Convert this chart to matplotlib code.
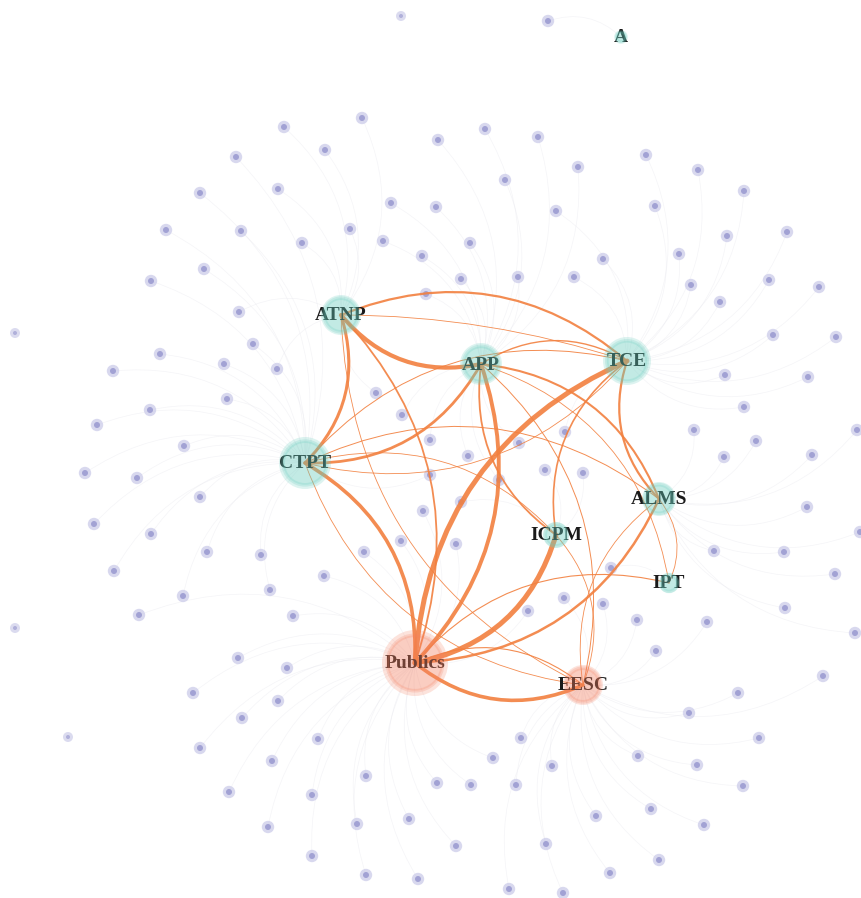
import matplotlib.pyplot as plt
from matplotlib.patches import Circle, PathPatch
from matplotlib.path import Path

# hub nodes (pixel layout of the reference)
hub_names = ["ATNP", "APP", "TCE", "CTPT", "ALMS", "ICPM", "IPT", "Publics", "EESC", "A"]
hub_x = [341, 481, 627, 305, 659, 556, 669, 415, 583, 621]
hub_y = [315, 364, 361, 463, 499, 535, 583, 663, 685, 37]
hub_size = [20, 21, 24, 26, 17, 13, 10, 33, 20, 6]
hub_kind = ["t", "t", "t", "t", "t", "t", "t", "s", "s", "t"]

# leaf nodes grouped by the hub they hang off
leaves_ATNP = [(362, 118), (284, 127), (325, 150), (278, 189), (350, 229), (302, 243),
               (239, 312), (277, 369), (376, 393)]
leaves_APP = [(391, 203), (383, 241), (422, 256), (426, 294), (485, 129), (438, 140),
              (538, 137), (578, 167), (505, 180), (436, 207), (470, 243), (461, 279),
              (518, 277), (402, 415), (430, 440), (519, 443), (468, 456), (499, 480)]
leaves_TCE = [(646, 155), (698, 170), (744, 191), (556, 211), (655, 206), (727, 236),
              (787, 232), (679, 254), (603, 259), (574, 277), (691, 285), (769, 280),
              (819, 287), (720, 302), (773, 335), (836, 337), (725, 375), (808, 377),
              (744, 407), (565, 432)]
leaves_CTPT = [(236, 157), (200, 193), (166, 230), (241, 231), (204, 269), (151, 281),
               (253, 344), (160, 354), (113, 371), (224, 364), (227, 399), (150, 410),
               (97, 425), (184, 446), (85, 473), (137, 478), (430, 475), (200, 497),
               (94, 524), (151, 534), (207, 552), (261, 555), (114, 571), (270, 590),
               (183, 596)]
leaves_ALMS = [(694, 430), (756, 441), (857, 430), (724, 457), (812, 455), (807, 507),
               (860, 532), (714, 551), (784, 552), (835, 574), (785, 608), (855, 633)]
leaves_ICPM = [(545, 470), (583, 473), (461, 502)]
leaves_IPT = [(611, 568)]
leaves_Publics = [(423, 511), (401, 541), (364, 552), (324, 576), (456, 544), (139, 615),
                  (293, 616), (238, 658), (287, 668), (193, 693), (278, 701), (242, 718),
                  (200, 748), (318, 739), (272, 761), (366, 776), (229, 792), (312, 795),
                  (268, 827), (357, 824), (409, 819), (312, 856), (366, 875), (418, 879),
                  (528, 611), (493, 758), (437, 783), (471, 785), (456, 846)]
leaves_EESC = [(564, 598), (603, 604), (637, 620), (707, 622), (656, 651), (823, 676),
               (738, 693), (689, 713), (759, 738), (521, 738), (552, 766), (638, 756),
               (697, 765), (743, 786), (516, 785), (651, 809), (704, 825), (596, 816),
               (546, 844), (659, 860), (610, 873), (509, 889), (563, 893)]
leaves_A = [(548, 21)]
loose_nodes = [(401, 16), (15, 333), (15, 628), (68, 737)]

# weighted links between hubs (source, target, weight)
core_links = [
    ("ATNP", "TCE", 1.6), ("ATNP", "TCE", 0.6), ("APP", "ATNP", 3.0),
    ("ATNP", "CTPT", 2.2), ("APP", "TCE", 1.0), ("CTPT", "TCE", 0.7),
    ("TCE", "CTPT", 0.6), ("APP", "CTPT", 2.0), ("APP", "Publics", 2.8),
    ("Publics", "TCE", 3.6), ("CTPT", "Publics", 2.6), ("ATNP", "Publics", 1.3),
    ("ICPM", "Publics", 3.6), ("ALMS", "Publics", 1.8), ("EESC", "Publics", 2.6),
    ("Publics", "EESC", 0.8), ("Publics", "IPT", 0.8), ("ALMS", "TCE", 1.6),
    ("APP", "ALMS", 1.5), ("ICPM", "APP", 1.3), ("ICPM", "TCE", 1.2),
    ("CTPT", "ALMS", 0.7), ("CTPT", "ICPM", 0.6), ("EESC", "CTPT", 0.6),
    ("EESC", "ATNP", 0.6), ("APP", "EESC", 0.7), ("ICPM", "EESC", 0.6),
    ("EESC", "ALMS", 0.6), ("ALMS", "IPT", 0.6), ("APP", "IPT", 0.6),
]

TEAL = (0.40, 0.80, 0.74)
SALMON = (0.96, 0.50, 0.38)
ORANGE = "#f2803f"


def curve(ax, p, q, rad, **kw):
    mx, my = (p[0] + q[0]) / 2, (p[1] + q[1]) / 2
    dx, dy = q[0] - p[0], q[1] - p[1]
    c = (mx + rad * dy, my - rad * dx)
    path = Path([p, c, q], [Path.MOVETO, Path.CURVE3, Path.CURVE3])
    ax.add_patch(PathPatch(path, fill=False, **kw))


fig = plt.figure(figsize=(8.61, 8.98), dpi=100)
ax = fig.add_axes([0, 0, 1, 1])
ax.set_xlim(0, 861)
ax.set_ylim(898, 0)
ax.axis("off")

pos = {n: (x, y) for n, x, y in zip(hub_names, hub_x, hub_y)}

leaf_groups = {
    "ATNP": leaves_ATNP, "APP": leaves_APP, "TCE": leaves_TCE, "CTPT": leaves_CTPT,
    "ALMS": leaves_ALMS, "ICPM": leaves_ICPM, "IPT": leaves_IPT,
    "Publics": leaves_Publics, "EESC": leaves_EESC, "A": leaves_A,
}

# faint leaf links
for hub, pts in leaf_groups.items():
    for p in pts:
        curve(ax, p, pos[hub], 0.3, edgecolor="#e8e8ee", lw=0.5, alpha=0.45, zorder=1)

# leaf nodes
for pts in leaf_groups.values():
    for (x, y) in pts:
        ax.add_patch(Circle((x, y), 6.2, facecolor="#c8c8e8", alpha=0.7,
                            edgecolor="none", zorder=2))
        ax.add_patch(Circle((x, y), 3.0, facecolor="#a2a2d4", edgecolor="none", zorder=3))
for (x, y) in loose_nodes:
    ax.add_patch(Circle((x, y), 5.0, facecolor="#d2d2ec", alpha=0.8,
                        edgecolor="none", zorder=2))
    ax.add_patch(Circle((x, y), 2.0, facecolor="#b0b0da", edgecolor="none", zorder=3))

# hub-to-hub links
for s, t, w in core_links:
    rad = 0.3
    if (s, t, w) == ("ATNP", "TCE", 0.6):
        rad = 0.08
    curve(ax, pos[s], pos[t], rad, edgecolor=ORANGE, lw=w, alpha=0.9,
          capstyle="round", zorder=4)

# labels, then translucent hub discs on top
for n, x, y, r, k in zip(hub_names, hub_x, hub_y, hub_size, hub_kind):
    ax.text(x, y + 1, n, ha="center", va="center", fontsize=14,
            fontweight="bold", family="Liberation Serif", color="#1a1a1a", zorder=5)
    col = TEAL if k == "t" else SALMON
    ax.add_patch(Circle((x, y), r, facecolor=col, alpha=0.22, edgecolor="none", zorder=6))
    ax.add_patch(Circle((x, y), r * 0.84, facecolor=col, alpha=0.22,
                        edgecolor=col, linewidth=2.6, zorder=6))

fig.savefig("out.png", dpi=100)
